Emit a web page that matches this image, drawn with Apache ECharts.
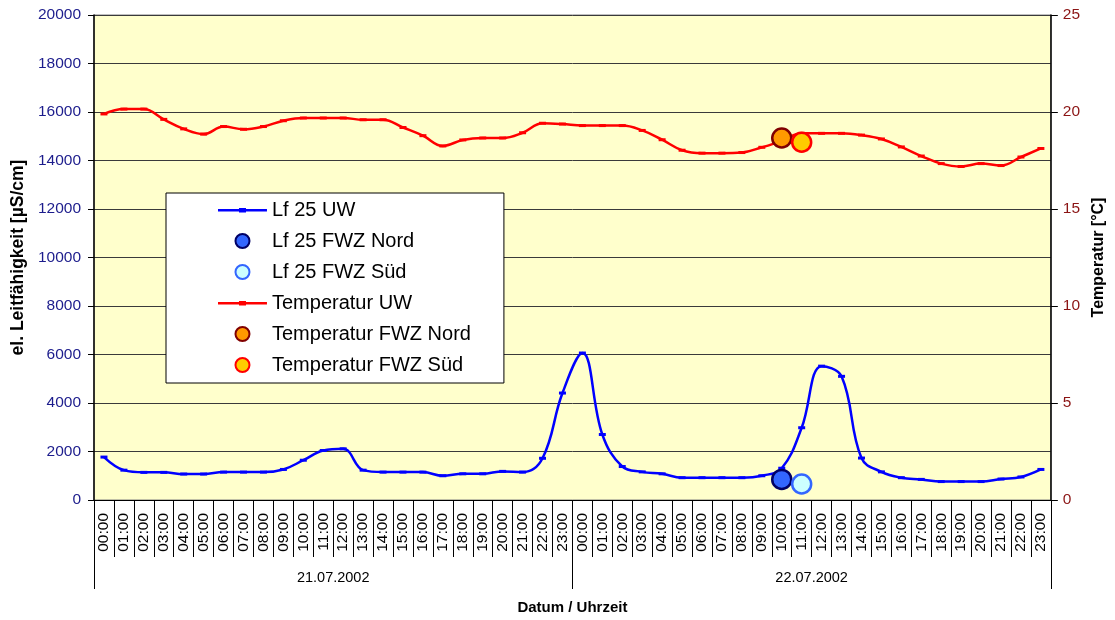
<!DOCTYPE html>
<html>
<head>
<meta charset="utf-8">
<script src="https://cdn.jsdelivr.net/npm/echarts@6/dist/echarts.min.js"></script>
<style>
html,body{margin:0;padding:0;background:#fff;}
#chart{width:1115px;height:620px;}
</style>
</head>
<body>
<div id="chart"></div>
<script>
const hourLabels = ['00:00','01:00','02:00','03:00','04:00','05:00','06:00','07:00','08:00','09:00','10:00','11:00','12:00','13:00','14:00','15:00','16:00','17:00','18:00','19:00','20:00','21:00','22:00','23:00'];
const dateLabels = ['21.07.2002','22.07.2002'];
const categories = hourLabels.concat(hourLabels);

const lfUW = [1770,1230,1140,1140,1070,1070,1150,1150,1150,1260,1640,2040,2110,1230,1150,1150,1150,1000,1080,1080,1180,1150,1720,4410,
              6060,2700,1380,1160,1080,920,920,920,920,1000,1310,2980,5520,5100,1730,1160,920,850,760,760,760,865,950,1260];
const tempUW = [19.9,20.15,20.15,19.62,19.13,18.86,19.25,19.11,19.25,19.55,19.69,19.69,19.69,19.6,19.6,19.2,18.78,18.25,18.56,18.66,18.66,18.93,19.42,19.38,
                19.3,19.3,19.3,19.05,18.57,18.03,17.88,17.88,17.91,18.18,18.5,18.9,18.9,18.9,18.81,18.61,18.2,17.73,17.34,17.19,17.34,17.24,17.68,18.12];
const lfNord = [[34, 850]];
const lfSued = [[35, 660]];
const tempNord = [[34, 18.66]];
const tempSued = [[35, 18.44]];

const FONT = 'Liberation Sans, Arial, sans-serif';
const lineIcon = 'path://M0,0h0.01v0.01h-0.01z M0,14h0.01v0.01h-0.01z M0,6h49v2.4h-49z M21,5h7v4.4h-7z';

const chart = echarts.init(document.getElementById('chart'), null, {renderer: 'canvas'});
chart.setOption({
  animation: false,
  textStyle: {fontFamily: FONT},
  grid: {left: 94, right: 58, top: 15, bottom: 112, show: true, backgroundColor: '#FFFFCC', borderColor: '#808080', borderWidth: 1},
  legend: {
    orient: 'vertical', left: 166, top: 193,
    padding: [7, 33, 8, 52], itemGap: 11, itemWidth: 49, itemHeight: 14,
    backgroundColor: '#ffffff', borderColor: '#000000', borderWidth: 1,
    textStyle: {fontFamily: FONT, fontSize: 20, color: '#000'},
    data: [
      {name: 'Lf 25 UW', icon: lineIcon},
      {name: 'Lf 25 FWZ Nord'},
      {name: 'Lf 25 FWZ Süd'},
      {name: 'Temperatur UW', icon: lineIcon},
      {name: 'Temperatur FWZ Nord'},
      {name: 'Temperatur FWZ Süd'}
    ]
  },
  xAxis: [
    {
      type: 'category', data: categories, position: 'bottom', boundaryGap: true,
      axisLine: {show: true, lineStyle: {color: '#000', width: 1}},
      axisTick: {show: true, interval: 0, length: 57, lineStyle: {color: '#000'}},
      axisLabel: {interval: 0, rotate: 90, margin: 13, fontSize: 15.5, color: '#000', fontFamily: FONT},
      splitLine: {show: false}
    },
    {
      type: 'category', data: dateLabels, position: 'bottom', boundaryGap: true,
      axisLine: {show: false},
      axisTick: {show: true, interval: 0, length: 89, lineStyle: {color: '#000'}},
      axisLabel: {interval: 0, margin: 70, fontSize: 14.5, color: '#000', fontFamily: FONT},
      name: 'Datum / Uhrzeit', nameLocation: 'middle', nameGap: 100,
      nameTextStyle: {fontWeight: 'bold', fontSize: 15, color: '#000', fontFamily: FONT}
    }
  ],
  yAxis: [
    {
      type: 'value', min: 0, max: 20000, interval: 2000, position: 'left',
      axisLine: {show: true, lineStyle: {color: '#000', width: 1.5}},
      axisTick: {show: true, length: 6, lineStyle: {color: '#000'}},
      axisLabel: {margin: 13, fontSize: 15.5, color: '#1c1c8c', fontFamily: FONT, formatter: v => String(v)},
      splitLine: {show: true, lineStyle: {color: '#3a3a3a', width: 1}},
      name: 'el. Leitfähigkeit [µS/cm]', nameLocation: 'middle', nameGap: 67, nameRotate: 90,
      nameTextStyle: {fontWeight: 'bold', fontSize: 17.5, color: '#000', fontFamily: FONT}
    },
    {
      type: 'value', min: 0, max: 25, interval: 5, position: 'right',
      axisLine: {show: true, lineStyle: {color: '#000', width: 1.5}},
      axisTick: {show: true, length: 7, lineStyle: {color: '#000'}},
      axisLabel: {margin: 12, fontSize: 15.5, color: '#8b1414', fontFamily: FONT},
      splitLine: {show: false},
      name: 'Temperatur [°C]', nameLocation: 'middle', nameGap: 38, nameRotate: 90,
      nameTextStyle: {fontWeight: 'bold', fontSize: 16, color: '#000', fontFamily: FONT}
    }
  ],
  series: [
    {
      name: 'Lf 25 UW', type: 'line', xAxisIndex: 0, yAxisIndex: 0, data: lfUW,
      smooth: 0.4, showAllSymbol: true, symbol: 'rect', symbolSize: [7, 3],
      lineStyle: {color: '#0000FF', width: 2.5}, itemStyle: {color: '#0000FF', borderWidth: 0}, z: 2
    },
    {
      name: 'Lf 25 FWZ Nord', type: 'scatter', xAxisIndex: 0, yAxisIndex: 0, data: lfNord,
      symbol: 'circle', symbolSize: 19,
      itemStyle: {color: '#3366FF', borderColor: '#000066', borderWidth: 2.5, opacity: 1}, z: 4
    },
    {
      name: 'Lf 25 FWZ Süd', type: 'scatter', xAxisIndex: 0, yAxisIndex: 0, data: lfSued,
      symbol: 'circle', symbolSize: 19,
      itemStyle: {color: '#CCFFFF', borderColor: '#3366FF', borderWidth: 2.5, opacity: 1}, z: 4
    },
    {
      name: 'Temperatur UW', type: 'line', xAxisIndex: 0, yAxisIndex: 1, data: tempUW,
      smooth: 0.4, showAllSymbol: true, symbol: 'rect', symbolSize: [7, 3],
      lineStyle: {color: '#FF0000', width: 2.5}, itemStyle: {color: '#FF0000', borderWidth: 0}, z: 2
    },
    {
      name: 'Temperatur FWZ Nord', type: 'scatter', xAxisIndex: 0, yAxisIndex: 1, data: tempNord,
      symbol: 'circle', symbolSize: 19,
      itemStyle: {color: '#FF9900', borderColor: '#800000', borderWidth: 2.5, opacity: 1}, z: 4
    },
    {
      name: 'Temperatur FWZ Süd', type: 'scatter', xAxisIndex: 0, yAxisIndex: 1, data: tempSued,
      symbol: 'circle', symbolSize: 19,
      itemStyle: {color: '#FFCC00', borderColor: '#FF0000', borderWidth: 2.5, opacity: 1}, z: 4
    }
  ]
});
</script>
</body>
</html>
